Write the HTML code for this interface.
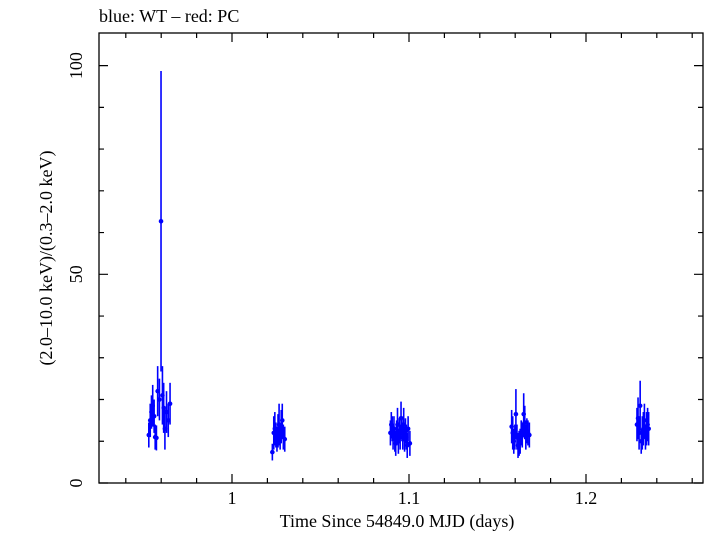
<!DOCTYPE html>
<html><head><meta charset="utf-8"><style>
body{margin:0;background:#fff;}
svg text{font-family:"Liberation Serif",serif;fill:#000;}
</style></head><body>
<svg id="chart" width="705" height="532" xmlns="http://www.w3.org/2000/svg">
<text x="99" y="22" font-size="18">blue: WT – red: PC</text>
<text x="397" y="527" font-size="18" text-anchor="middle">Time Since 54849.0 MJD (days)</text>
<text transform="translate(52,258) rotate(-90)" font-size="18" text-anchor="middle">(2.0–10.0 keV)/(0.3–2.0 keV)</text>
<g id="axes"></g>
<g id="marks"></g>
</svg>
<script>
const times=[0.9530,0.9538,0.9545,0.9552,0.9560,0.9566,0.9573,0.9580,0.9590,0.9599,0.9607,0.9614,0.9621,0.9630,0.9640,0.9650,
1.0228,1.0236,1.0242,1.0248,1.0254,1.0260,1.0266,1.0272,1.0278,1.0284,1.0290,1.0298,
1.0895,1.0900,1.0905,1.0910,1.0915,1.0920,1.0925,1.0930,1.0935,1.0940,1.0945,1.0950,1.0955,1.0960,1.0965,1.0970,1.0975,1.0980,1.0985,1.0990,1.0995,1.1005,
1.1580,1.1586,1.1592,1.1598,1.1604,1.1610,1.1616,1.1622,1.1628,1.1634,1.1640,1.1648,1.1654,1.1660,1.1666,1.1672,1.1680,
1.2288,1.2294,1.2300,1.2306,1.2312,1.2318,1.2324,1.2330,1.2336,1.2342,1.2348,1.2354];
const values=[11.5,15,17,18.5,16,11,10.8,22,20,62.7,21,18,13,17,15,19,
7.4,12,13,11.5,10.5,12.5,14,11,13.5,15,11,10.5,
12,14,13,11,13,10.5,9.5,12,14,10,12.5,11,15.5,13,11,14,10.5,12.5,11,9,13,9.5,
13.5,12,10,11,16.5,11,9,9.5,10,12,11.5,16.5,14.5,11,12.5,12,11.5,
14,15.5,12,18.5,10,12,13,15,11,13,14,13];
const errs=[3,4,4,5,4,3,3,6,5,36,7,6,5,5,4,5,
2,4,4,3,3,4,5,3,4,4,3,3,
3,3,3,3,3,3,3,3,4,3,3,3,4,3,3,4,3,3,3,3,3,3,
4,4,3,3,6,3,3,3,3,3,3,5,4,3,3,3,3,
4,5,4,6,3,4,4,4,3,4,4,4];
const xTicks=[1,1.1,1.2];
const yTicks=[0,50,100];
const L=99,R=703,T=33,B=483;
const x=t=>232+(t-1)*1770;
const y=v=>B-4.174*v;
const NS="http://www.w3.org/2000/svg";
function mk(tag,attrs,parent){const e=document.createElementNS(NS,tag);for(const k in attrs)e.setAttribute(k,attrs[k]);parent.appendChild(e);return e;}
const ax=document.getElementById('axes');
const frame=mk('rect',{x:L,y:T,width:R-L,height:B-T,fill:'none',stroke:'#000','stroke-width':1.3},ax);


for(let t=0.94;t<1.27;t+=0.02){const tt=Math.round(t*100)/100;const px=x(tt);if(px<L||px>R)continue;
const major=xTicks.some(m=>Math.abs(m-tt)<1e-6);const len=major?9:5;
const tk=mk('path',{d:`M${px},${B}v${-len}M${px},${T}v${len}`,stroke:'#000','stroke-width':1.2},ax);

}
xTicks.forEach(v=>{const tx=mk('text',{x:x(v),y:B+21,'font-size':18,'text-anchor':'middle'},ax);tx.textContent=String(v);

});
for(let v=0;v<=100;v+=10){const py=y(v);const major=yTicks.includes(v);const len=major?9:5;
const tk=mk('path',{d:`M${L},${py}h${len}M${R},${py}h${-len}`,stroke:'#000','stroke-width':1.2},ax);

}
yTicks.forEach(v=>{const tx=mk('text',{transform:`translate(${L-17},${y(v)}) rotate(-90)`,'font-size':18,'text-anchor':'middle'},ax);tx.textContent=String(v);

});
const mg=document.getElementById('marks');
times.forEach((t,i)=>{const px=x(t),py=y(values[i]);
const eb=mk('line',{x1:px,x2:px,y1:y(values[i]+errs[i]),y2:y(Math.max(0,values[i]-errs[i])),stroke:'#0000ff','stroke-width':1.6},mg);


const pt=mk('circle',{cx:px,cy:py,r:2.3,fill:'#0000ff'},mg);

});
</script>
</body></html>
